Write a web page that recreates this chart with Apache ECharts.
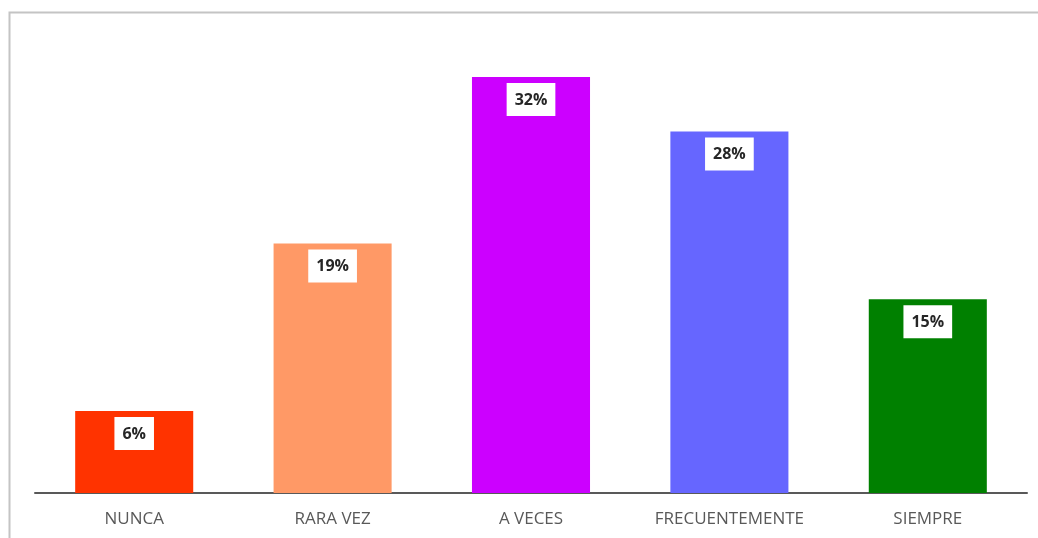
<!DOCTYPE html>
<html>
<head>
    <meta charset="utf-8" />
    <title>Frecuencia</title>
    <script src="https://cdn.jsdelivr.net/npm/echarts@6/dist/echarts.min.js"></script>
    <style>
        html, body { margin: 0; padding: 0; background: #fff; }
        #chart { width: 1038px; height: 538px; }
    </style>
</head>
<body>
    <div id="chart"></div>
    <script type="text/javascript">
        // datos
        var categorias = ['NUNCA', 'RARA VEZ', 'A VECES', 'FRECUENTEMENTE', 'SIEMPRE'];
        var valores = [6.3, 19.2, 32.0, 27.8, 14.9];
        var etiquetas = ['6%', '19%', '32%', '28%', '15%'];
        var colores = ['#ff3300', '#ff9966', '#cc00ff', '#6666ff', '#008000'];

        var myChart = echarts.init(document.getElementById('chart'));

        var datos = [];
        for (var i = 0; i < valores.length; i++) {
            datos.push({
                value: valores[i],
                itemStyle: { color: colores[i] },
                label: { formatter: etiquetas[i] }
            });
        }

        myChart.setOption({
            animation: false,
            graphic: [{
                type: 'rect',
                shape: { x: 9.5, y: 12.5, width: 1100, height: 600 },
                style: { fill: 'none', stroke: '#c4c4c4', lineWidth: 2 }
            }],
            grid: {
                left: 35,
                right: 11,
                top: 38,
                bottom: 45
            },
            xAxis: {
                type: 'category',
                data: categorias,
                axisLine: { lineStyle: { color: '#595959', width: 2 } },
                axisTick: { show: false },
                axisLabel: {
                    interval: 0,
                    hideOverlap: false,
                    color: '#595959',
                    fontSize: 17,
                    fontFamily: 'Open Sans',
                    margin: 18
                }
            },
            yAxis: {
                type: 'value',
                min: 0,
                max: 35,
                show: false,
                splitLine: { show: false }
            },
            series: [{
                type: 'bar',
                barWidth: '59.5%',
                data: datos,
                label: {
                    show: true,
                    position: 'insideTop',
                    distance: 6,
                    backgroundColor: '#fff',
                    padding: [9, 8, 8, 8],
                    color: '#262626',
                    fontWeight: 'bold',
                    fontSize: 16,
                    fontFamily: 'Open Sans'
                }
            }]
        });
    </script>
</body>
</html>
